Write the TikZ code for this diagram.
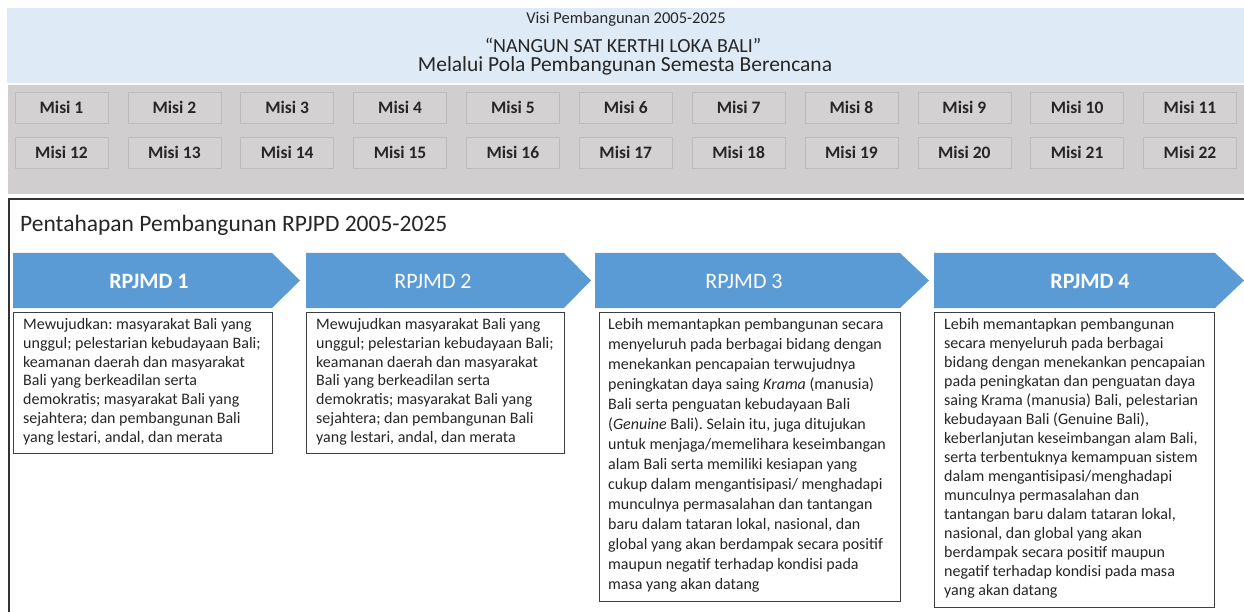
\documentclass[tikz,border=0pt]{standalone}
\usepackage{fontspec}
\setmainfont{Carlito}
\frenchspacing
\definecolor{hdrblue}{HTML}{DEEBF7}
\definecolor{bandgray}{HTML}{D0CECE}
\definecolor{misifill}{HTML}{D3D1D1}
\definecolor{misiline}{HTML}{BDBBBB}
\definecolor{arrblue}{HTML}{5B9BD5}
\definecolor{boxline}{HTML}{3F3F3F}
\definecolor{txtdark}{HTML}{262626}
\tikzset{
  misibox/.style={draw=misiline, fill=misifill, line width=0.6pt, minimum width=93pt, minimum height=31pt, inner sep=0pt, font=\bfseries\fontsize{17.5}{20}\selectfont, text=txtdark},
  phasearrow/.style={fill=arrblue},
  phaselabel/.style={text=white, inner sep=0pt, font=\fontsize{22}{24}\selectfont},
  descbox/.style={draw=boxline, line width=1.2pt, fill=white, anchor=north west, inner sep=0pt},
  desctext/.style={anchor=north west, align=left, inner sep=0pt, text=txtdark},
  hdrtext/.style={inner sep=0pt, text=txtdark},
}
\begin{document}
\begin{tikzpicture}[x=1pt,y=-1pt]
\useasboundingbox (0,0) rectangle (1244,612);
\fill[white] (0,0) rectangle (1244,612);
% header band
\fill[hdrblue] (7,8) rectangle (1244,83);
\fill[bandgray] (8,85) rectangle (1244,194);
\node[hdrtext, font=\fontsize{16.5}{18}\selectfont] (visi) at (626,19) {Visi Pembangunan 2005-2025};
\node[hdrtext, font=\fontsize{20}{22}\selectfont] (nangun) at (623,45.5) {“NANGUN SAT KERTHI LOKA BALI”};
\node[hdrtext, font=\fontsize{21.5}{23}\selectfont] (pola) at (625,66) {Melalui Pola Pembangunan Semesta Berencana};
% misi boxes
\foreach \i in {1,...,11}{
  \pgfmathtruncatemacro\j{\i+11}
  \node[misibox] (m\i) at ({61.5+(\i-1)*112.85},107.5) {Misi \i};
  \node[misibox] (m\j) at ({61.5+(\i-1)*112.85},152.5) {Misi \j};
}
% frame
\draw[line width=1.8pt, black!80] (1244,199) -- (9,199) -- (9,612);
\node[anchor=west, inner sep=0pt, text=txtdark, font=\fontsize{23.5}{25}\selectfont] (tahap) at (20,225) {Pentahapan Pembangunan RPJPD 2005-2025};
% arrows
\fill[phasearrow] (13,253) -- (272,253) -- (300,280.5) -- (272,308) -- (13,308) -- cycle;
\fill[phasearrow] (306,253) -- (564,253) -- (591,280.5) -- (564,308) -- (306,308) -- cycle;
\fill[phasearrow] (595,253) -- (900,253) -- (929,280.5) -- (900,308) -- (595,308) -- cycle;
\fill[phasearrow] (934,253) -- (1215,253) -- (1244,280.5) -- (1215,308) -- (934,308) -- cycle;
\node[phaselabel, font=\bfseries\fontsize{22}{24}\selectfont] (r1) at (149,281) {RPJMD 1};
\node[phaselabel] (r2) at (433,281) {RPJMD 2};
\node[phaselabel] (r3) at (744,281) {RPJMD 3};
\node[phaselabel, font=\bfseries\fontsize{22}{24}\selectfont] (r4) at (1090,281) {RPJMD 4};
% description boxes
\node[descbox, minimum width=259pt, minimum height=141pt] (b1) at (13,312) {};
\node[descbox, minimum width=258pt, minimum height=141pt] (b2) at (306,312) {};
\node[descbox, minimum width=301pt, minimum height=289pt] (b3) at (599,312) {};
\node[descbox, minimum width=280pt, minimum height=295pt] (b4) at (934,312) {};
\node[desctext, font=\fontsize{16}{18.7}\selectfont] (t1) at ([xshift=10pt,yshift=-6.5pt]b1.north west) {Mewujudkan: masyarakat Bali yang\\ unggul; pelestarian kebudayaan Bali;\\ keamanan daerah dan masyarakat\\ Bali yang berkeadilan serta\\ demokratis; masyarakat Bali yang\\ sejahtera; dan pembangunan Bali\\ yang lestari, andal, dan merata};
\node[desctext, font=\fontsize{16}{18.7}\selectfont] (t2) at ([xshift=10pt,yshift=-6.5pt]b2.north west) {Mewujudkan masyarakat Bali yang\\ unggul; pelestarian kebudayaan Bali;\\ keamanan daerah dan masyarakat\\ Bali yang berkeadilan serta\\ demokratis; masyarakat Bali yang\\ sejahtera; dan pembangunan Bali\\ yang lestari, andal, dan merata};
\node[desctext, font=\fontsize{16}{20}\selectfont] (t3) at ([xshift=9pt,yshift=-6.5pt]b3.north west) {Lebih memantapkan pembangunan secara\\ menyeluruh pada berbagai bidang dengan\\ menekankan pencapaian terwujudnya\\ peningkatan daya saing \textit{Krama} (manusia)\\ Bali serta penguatan kebudayaan Bali\\ (\textit{Genuine} Bali). Selain itu, juga ditujukan\\ untuk menjaga/memelihara keseimbangan\\ alam Bali serta memiliki kesiapan yang\\ cukup dalam mengantisipasi/ menghadapi\\ munculnya permasalahan dan tantangan\\ baru dalam tataran lokal, nasional, dan\\ global yang akan berdampak secara positif\\ maupun negatif terhadap kondisi pada\\ masa yang akan datang};
\node[desctext, font=\fontsize{16}{19}\selectfont] (t4) at ([xshift=10pt,yshift=-6.5pt]b4.north west) {Lebih memantapkan pembangunan\\ secara menyeluruh pada berbagai\\ bidang dengan menekankan pencapaian\\ pada peningkatan dan penguatan daya\\ saing Krama (manusia) Bali, pelestarian\\ kebudayaan Bali (Genuine Bali),\\ keberlanjutan keseimbangan alam Bali,\\ serta terbentuknya kemampuan sistem\\ dalam mengantisipasi/menghadapi\\ munculnya permasalahan dan\\ tantangan baru dalam tataran lokal,\\ nasional, dan global yang akan\\ berdampak secara positif maupun\\ negatif terhadap kondisi pada masa\\ yang akan datang};
\end{tikzpicture}
\end{document}
